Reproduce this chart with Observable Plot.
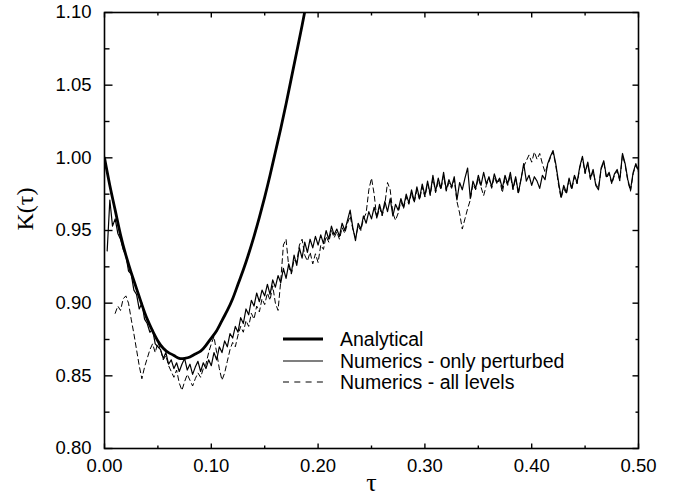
<!DOCTYPE html>
<html>
<head>
<meta charset="utf-8">
<script src="https://cdn.jsdelivr.net/npm/d3@7"></script>
<script src="https://cdn.jsdelivr.net/npm/@observablehq/plot@0.6"></script>
<style>
  html, body { margin: 0; padding: 0; background: #fff; }
  #wrap { position: relative; width: 681px; height: 504px; }
  #legend { position: absolute; left: 0; top: 0; width: 681px; height: 504px; pointer-events: none; }
</style>
</head>
<body>
<div id="wrap"></div>
<script>
// ---------- data ----------
const tauStep = 0.0025;

// Analytical curve samples
const analyticTau = [0, 0.005, 0.010, 0.015, 0.020, 0.025, 0.030, 0.035, 0.040, 0.045, 0.050, 0.055, 0.060, 0.065, 0.070, 0.075, 0.080, 0.085, 0.090, 0.095, 0.100, 0.105, 0.110, 0.115, 0.120, 0.125, 0.130, 0.135, 0.140, 0.145, 0.150, 0.155, 0.160, 0.165, 0.170, 0.175, 0.180, 0.185, 0.190];
const analyticK = [1.000, 0.981, 0.964, 0.947, 0.933, 0.921, 0.910, 0.899, 0.889, 0.881, 0.874, 0.869, 0.866, 0.864, 0.862, 0.862, 0.863, 0.865, 0.867, 0.871, 0.876, 0.881, 0.888, 0.895, 0.903, 0.913, 0.923, 0.934, 0.946, 0.959, 0.973, 0.988, 1.004, 1.020, 1.037, 1.055, 1.073, 1.091, 1.110];

// Numerics - only perturbed (tau = 0.0025, 0.0050, ... 0.5000)
const perturbedStart = 0.0025;
const perturbedK = [
  0.936, 0.971, 0.953, 0.958, 0.948, 0.944, 0.937, 0.933, 0.922, 0.920,
  0.909, 0.906, 0.896, 0.900, 0.889, 0.886, 0.880, 0.882, 0.872, 0.870,
  0.868, 0.862, 0.866, 0.858, 0.861, 0.855, 0.859, 0.853, 0.858, 0.862,
  0.854, 0.858, 0.851, 0.856, 0.860, 0.853, 0.859, 0.855, 0.861, 0.857,
  0.866, 0.861, 0.870, 0.866, 0.874, 0.870, 0.879, 0.876, 0.884, 0.880,
  0.890, 0.886, 0.896, 0.892, 0.902, 0.898, 0.907, 0.901, 0.909, 0.905,
  0.913, 0.906, 0.916, 0.911, 0.919, 0.914, 0.924, 0.917, 0.927, 0.921,
  0.933, 0.926, 0.938, 0.931, 0.942, 0.935, 0.944, 0.938, 0.946, 0.940,
  0.947, 0.941, 0.950, 0.944, 0.953, 0.947, 0.951, 0.946, 0.955, 0.950,
  0.957, 0.964, 0.952, 0.943, 0.955, 0.951, 0.960, 0.955, 0.963, 0.958,
  0.966, 0.959, 0.968, 0.961, 0.970, 0.963, 0.972, 0.960, 0.968, 0.964,
  0.972, 0.966, 0.975, 0.969, 0.978, 0.970, 0.980, 0.972, 0.982, 0.974,
  0.984, 0.975, 0.988, 0.977, 0.986, 0.979, 0.990, 0.978, 0.985, 0.980,
  0.987, 0.971, 0.983, 0.978, 0.986, 0.993, 0.972, 0.984, 0.979, 0.988,
  0.981, 0.990, 0.982, 0.987, 0.980, 0.989, 0.983, 0.986, 0.979, 0.988,
  0.982, 0.990, 0.979, 0.987, 0.976, 0.985, 0.996, 0.984, 0.988, 0.981,
  0.987, 0.984, 0.979, 0.988, 0.985, 0.996, 1.001, 1.005, 0.996, 0.984,
  0.973, 0.981, 0.976, 0.986, 0.979, 0.988, 0.983, 0.994, 1.001, 0.990,
  0.997, 0.986, 0.992, 0.981, 0.978, 0.993, 0.998, 0.987, 0.990, 0.983,
  0.989, 0.992, 0.985, 1.003, 0.996, 0.985, 0.978, 0.990, 0.996, 0.991
];

// Numerics - all levels (tau = 0.0100, 0.0125, ... 0.5000)
const allLevelsStart = 0.010;
const allLevelsK = [
  0.893, 0.898, 0.895, 0.903, 0.905, 0.900, 0.889, 0.879, 0.868, 0.857,
  0.848, 0.856, 0.862, 0.868, 0.872, 0.866, 0.873, 0.868, 0.861, 0.864,
  0.857, 0.853, 0.849, 0.854, 0.845, 0.840, 0.846, 0.851, 0.847, 0.843,
  0.848, 0.852, 0.849, 0.855, 0.858, 0.866, 0.872, 0.877, 0.866, 0.855,
  0.847, 0.852, 0.860, 0.868, 0.873, 0.870, 0.878, 0.884, 0.880, 0.888,
  0.884, 0.893, 0.889, 0.898, 0.894, 0.903, 0.899, 0.907, 0.902, 0.912,
  0.900, 0.895, 0.915, 0.940, 0.944, 0.925, 0.920, 0.930, 0.928, 0.940,
  0.944, 0.933, 0.929, 0.935, 0.927, 0.934, 0.928, 0.940, 0.937, 0.946,
  0.942, 0.950, 0.945, 0.949, 0.944, 0.952, 0.948, 0.955, 0.960, 0.951,
  0.945, 0.953, 0.950, 0.958, 0.962, 0.978, 0.986, 0.975, 0.958, 0.966,
  0.960, 0.968, 0.983, 0.978, 0.962, 0.957, 0.962, 0.970, 0.965, 0.973,
  0.968, 0.976, 0.969, 0.978, 0.971, 0.980, 0.973, 0.982, 0.974, 0.986,
  0.976, 0.984, 0.978, 0.988, 0.977, 0.983, 0.979, 0.985, 0.970, 0.962,
  0.951, 0.958, 0.965, 0.971, 0.982, 0.978, 0.986, 0.980, 0.974, 0.981,
  0.986, 0.979, 0.987, 0.982, 0.985, 0.976, 0.986, 0.981, 0.988, 0.978,
  0.986, 0.975, 0.986, 0.994, 0.998, 1.002, 0.997, 1.004, 0.999, 1.003,
  0.996, 0.990, 0.995, 1.000, 1.004, 0.995, 0.982, 0.972, 0.979, 0.975,
  0.985, 0.978, 0.987, 0.982, 0.993, 1.000, 0.989, 0.996, 0.985, 0.991,
  0.982, 0.979, 0.992, 0.997, 0.986, 0.989, 0.982, 0.988, 0.991, 0.984,
  1.002, 0.995, 0.984, 0.977, 0.989, 0.995, 0.990
];

// ticks
const xMajor = [0, 0.1, 0.2, 0.3, 0.4, 0.5];
const xMinor = [0.05, 0.15, 0.25, 0.35, 0.45];
const yMajor = [0.80, 0.85, 0.90, 0.95, 1.00, 1.05, 1.10];
const yMinor = [0.825, 0.875, 0.925, 0.975, 1.025, 1.075];

const legendLabels = ["Analytical", "Numerics - only perturbed", "Numerics - all levels"];

// ---------- build ----------
const analytic = analyticTau.map((t, i) => ({tau: t, K: analyticK[i]}));
const perturbed = perturbedK.map((k, i) => ({tau: perturbedStart + i * tauStep, K: k}));
const allLevels = allLevelsK.map((k, i) => ({tau: allLevelsStart + i * tauStep, K: k}));

const tickSym = (dx, dy) => ({draw(ctx) { ctx.moveTo(0, 0); ctx.lineTo(dx, dy); }});
const tickMark = (data, isX, value, sym) => Plot.dot(data, isX
  ? {x: d => d, y: value, symbol: sym, stroke: "black", fill: "none", strokeWidth: 1.4, r: 3}
  : {y: d => d, x: value, symbol: sym, stroke: "black", fill: "none", strokeWidth: 1.4, r: 3});

const fmt = d3.format(".2f");

const chart = Plot.plot({
  width: 681,
  height: 504,
  marginLeft: 104,
  marginRight: 43,
  marginTop: 12,
  marginBottom: 56,
  style: {fontFamily: "'Liberation Sans', Arial, Helvetica, sans-serif", fontSize: "18px", background: "#fff", color: "#000"},
  x: {domain: [0, 0.5]},
  y: {domain: [0.8, 1.1]},
  marks: [
    Plot.axisX({ticks: xMajor, tickFormat: fmt, tickSize: 0, tickPadding: 10, label: null, fontSize: 18.5}),
    Plot.axisY({ticks: yMajor, tickFormat: fmt, tickSize: 0, tickPadding: 13, label: null, fontSize: 18.5}),
    Plot.line(allLevels, {x: "tau", y: "K", stroke: "black", strokeWidth: 1, strokeDasharray: "5,3.5", clip: true}),
    Plot.line(perturbed, {x: "tau", y: "K", stroke: "black", strokeWidth: 1.2, clip: true}),
    Plot.line(analytic, {x: "tau", y: "K", stroke: "black", strokeWidth: 2.8, curve: "natural", clip: true}),
    // inward ticks on all four sides
    tickMark(yMajor, false, 0, tickSym(8, 0)),
    tickMark(yMinor, false, 0, tickSym(5, 0)),
    tickMark(yMajor, false, 0.5, tickSym(-6, 0)),
    tickMark(yMinor, false, 0.5, tickSym(-3, 0)),
    tickMark(xMajor, true, 0.8, tickSym(0, -5)),
    tickMark(xMinor, true, 0.8, tickSym(0, -3)),
    tickMark(xMajor, true, 1.1, tickSym(0, 5)),
    tickMark(xMinor, true, 1.1, tickSym(0, 3)),
    Plot.frame({stroke: "black", strokeWidth: 1.6}),
    Plot.text(["K(τ)"], {frameAnchor: "left", dx: -79, rotate: -90, fontFamily: "'Liberation Serif', 'Times New Roman', serif", fontSize: 24}),
    Plot.text(["τ"], {frameAnchor: "bottom", dy: 42, fontFamily: "'Liberation Serif', 'Times New Roman', serif", fontSize: 26})
  ]
});

const wrap = document.getElementById("wrap");
wrap.appendChild(chart);

// legend overlay (inside the plot area, as in the reference)
const ns = "http://www.w3.org/2000/svg";
const lg = document.createElementNS(ns, "svg");
lg.setAttribute("id", "legend");
lg.setAttribute("width", 681);
lg.setAttribute("height", 504);
const rows = [
  {y: 339, w: 2.8, dash: null},
  {y: 361, w: 1.2, dash: null},
  {y: 382, w: 1.1, dash: "6,5.3"}
];
rows.forEach((r, i) => {
  const ln = document.createElementNS(ns, "line");
  ln.setAttribute("x1", 283); ln.setAttribute("x2", 323);
  ln.setAttribute("y1", r.y); ln.setAttribute("y2", r.y);
  ln.setAttribute("stroke", "black");
  ln.setAttribute("stroke-width", r.w);
  if (r.dash) ln.setAttribute("stroke-dasharray", r.dash);
  lg.appendChild(ln);
  const tx = document.createElementNS(ns, "text");
  tx.setAttribute("x", 340);
  tx.setAttribute("y", r.y);
  tx.setAttribute("dominant-baseline", "central");
  tx.setAttribute("font-family", "'Liberation Sans', Arial, Helvetica, sans-serif");
  tx.setAttribute("font-size", "19.5px");
  tx.setAttribute("fill", "black");
  tx.textContent = legendLabels[i];
  lg.appendChild(tx);
});
wrap.appendChild(lg);
</script>
</body>
</html>
